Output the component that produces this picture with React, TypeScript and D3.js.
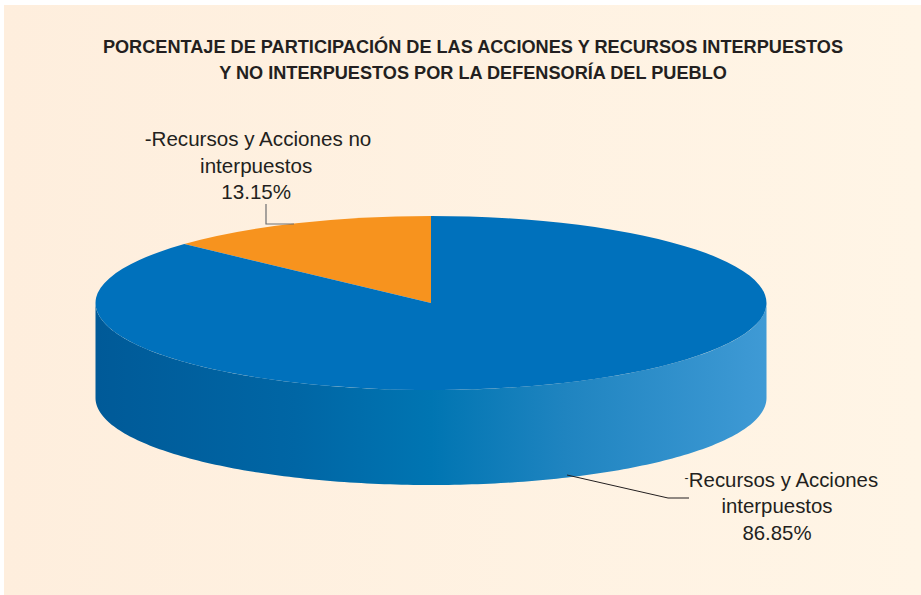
import React from "react";
import * as d3 from "d3";

const categories = ["Recursos y Acciones no interpuestos", "Recursos y Acciones interpuestos"];
const shares = [13.15, 86.85];
const sliceColors = ["#f7931e", "#0071bc"];
const titleLines = [
  "PORCENTAJE DE PARTICIPACIÓN DE LAS ACCIONES Y RECURSOS INTERPUESTOS",
  "Y NO INTERPUESTOS POR LA DEFENSORÍA DEL PUEBLO",
];
const labelTop = ["-Recursos y Acciones no", "interpuestos", "13.15%"];
const labelBottom = ["Recursos y Acciones", "interpuestos", "86.85%"];

const W = 921, H = 595;
const cx = 431, cy = 303, rx = 335.5, ry = 87, depth = 95;

export default function App() {
  // d3.pie goes clockwise; ending at 2π puts the small slice just left of 12 o'clock.
  const pie = d3.pie<number>().sort(null).value(d => d)
    .startAngle(-(shares[0] / 100) * 2 * Math.PI)
    .endAngle(2 * Math.PI - (shares[0] / 100) * 2 * Math.PI);
  const arcs = pie(shares);
  const arc = d3.arc<d3.PieArcDatum<number>>().innerRadius(0).outerRadius(rx);

  const angles = d3.range(0, 181).map(i => (Math.PI * i) / 180);
  const wall = d3.area<number>()
    .x(a => cx + rx * Math.cos(a))
    .y0(a => cy + ry * Math.sin(a))
    .y1(a => cy + ry * Math.sin(a) + depth)(angles) as string;

  const font = "'Liberation Sans', Arial, sans-serif";
  return (
    <svg width={W} height={H} viewBox={`0 0 ${W} ${H}`}
      style={{ position: "absolute", left: 0, top: 0, display: "block" }}>
      <defs>
        <linearGradient id="bg" x1="0" x2="1" y1="0" y2="0">
          <stop offset="0" stopColor="#feeedd" />
          <stop offset="1" stopColor="#fff5e6" />
        </linearGradient>
        <linearGradient id="side" gradientUnits="userSpaceOnUse" x1={cx - rx} x2={cx + rx} y1="0" y2="0">
          <stop offset="0" stopColor="#005a98" />
          <stop offset="0.3" stopColor="#0066a5" />
          <stop offset="0.5" stopColor="#0075b2" />
          <stop offset="0.7" stopColor="#1f84c0" />
          <stop offset="1" stopColor="#3f9ad5" />
        </linearGradient>
      </defs>
      <rect x={0} y={0} width={W} height={H} fill="#ffffff" />
      <rect x={4} y={5} width={W - 4} height={H - 5} fill="url(#bg)" />
      <path d={wall} fill="url(#side)" />
      <g transform={`translate(${cx},${cy}) scale(1,${ry / rx})`}>
        {arcs.map((d, i) => (
          <path key={categories[i]} d={arc(d) as string} fill={sliceColors[i]} />
        ))}
      </g>
      <g fontFamily={font} fontWeight="700" fontSize={18.15} fill="#231f20" textAnchor="middle">
        {titleLines.map((t, i) => (
          <text key={t} x={473} y={53 + i * 26}>{t}</text>
        ))}
      </g>
      <g fontFamily={font} fontSize={20.6} fill="#231f20" textAnchor="middle">
        {labelTop.map((t, i) => (
          <text key={t} x={i === 0 ? 258 : 256.2} y={146 + i * 26.5}>{t}</text>
        ))}
        {labelBottom.map((t, i) => (
          <text key={t} x={i === 0 ? 783.5 : 777} y={487 + i * 26.3} fontSize={20.4}>{t}</text>
        ))}
        <text x={686.5} y={482} fontSize={12} textAnchor="middle">-</text>
      </g>
      <path d="M266,204V224H294" fill="none" stroke="#6d6e71" strokeWidth={1.2} />
      <path d="M567,475L668,498H689" fill="none" stroke="#231f20" strokeWidth={1} />
    </svg>
  );
}
